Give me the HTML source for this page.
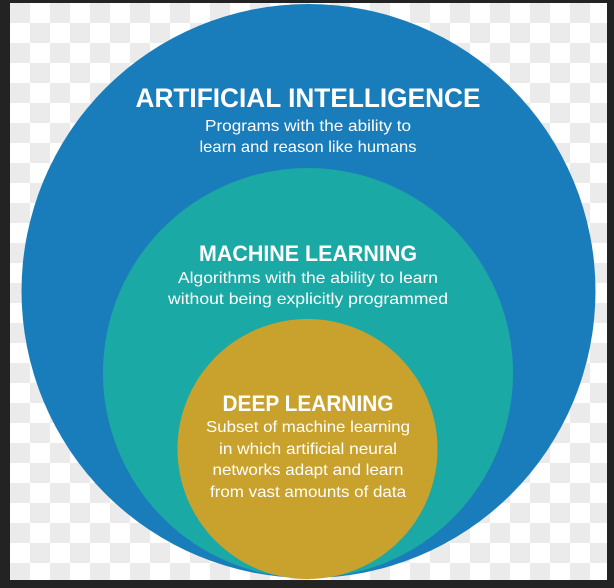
<!DOCTYPE html>
<html><head><meta charset="utf-8"><style>
html,body{margin:0;padding:0;background:#222;}
svg{display:block}
text{font-family:"Liberation Sans",sans-serif;fill:#fff;text-anchor:middle}
.t{font-weight:bold}
</style></head><body>
<svg width="614" height="588" viewBox="0 0 614 588" xmlns="http://www.w3.org/2000/svg">
<defs>
<pattern id="ck" x="10" y="3" width="40" height="40" patternUnits="userSpaceOnUse">
<rect width="40" height="40" fill="#fff"/>
<rect width="20" height="20" fill="#ebebeb"/>
<rect x="20" y="20" width="20" height="20" fill="#ebebeb"/>
</pattern>
</defs>
<rect width="614" height="588" fill="#232323"/>
<rect x="10" y="3" width="597" height="577" fill="url(#ck)"/>
<circle cx="308.5" cy="291" r="287" fill="#1a7dbb"/>
<circle cx="308" cy="373" r="205" fill="#1ba9a5"/>
<circle cx="307.5" cy="449" r="130" fill="#c9a22d"/>
<text class="t" x="308" y="107" font-size="27" textLength="345" lengthAdjust="spacingAndGlyphs">ARTIFICIAL INTELLIGENCE</text>
<text x="308" y="131" font-size="16" textLength="206" lengthAdjust="spacingAndGlyphs">Programs with the ability to</text>
<text x="308" y="152" font-size="16" textLength="217" lengthAdjust="spacingAndGlyphs">learn and reason like humans</text>
<text class="t" x="308" y="261" font-size="22" textLength="218" lengthAdjust="spacingAndGlyphs">MACHINE LEARNING</text>
<text x="308" y="283" font-size="16" textLength="260" lengthAdjust="spacingAndGlyphs">Algorithms with the ability to learn</text>
<text x="308" y="304" font-size="16" textLength="280" lengthAdjust="spacingAndGlyphs">without being explicitly programmed</text>
<text class="t" x="308" y="411" font-size="22" textLength="171" lengthAdjust="spacingAndGlyphs">DEEP LEARNING</text>
<text x="308" y="432" font-size="16" textLength="204" lengthAdjust="spacingAndGlyphs">Subset of machine learning</text>
<text x="308" y="454" font-size="16" textLength="178" lengthAdjust="spacingAndGlyphs">in which artificial neural</text>
<text x="308" y="475" font-size="16" textLength="191" lengthAdjust="spacingAndGlyphs">networks adapt and learn</text>
<text x="308" y="497" font-size="16" textLength="196" lengthAdjust="spacingAndGlyphs">from vast amounts of data</text>
</svg>
</body></html>
